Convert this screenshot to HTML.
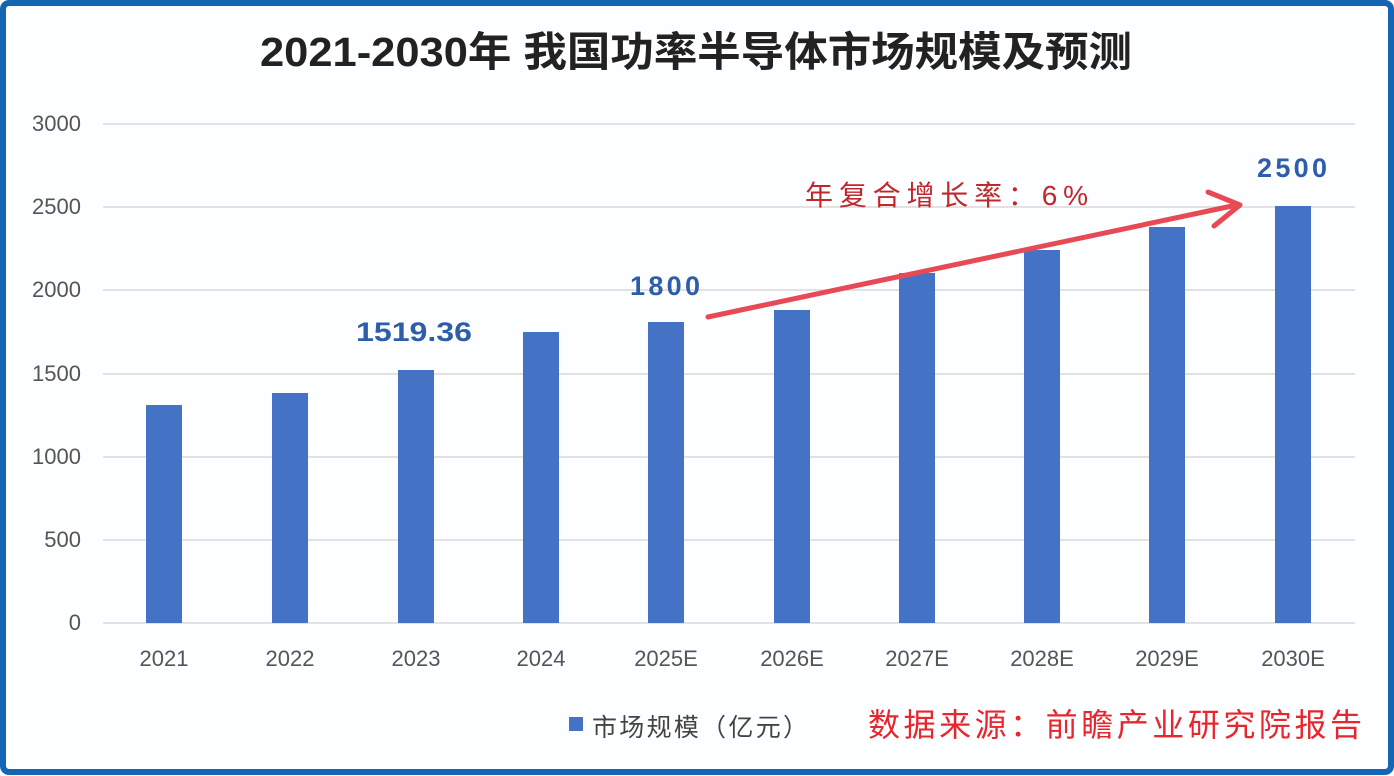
<!DOCTYPE html><html><head><meta charset="utf-8"><style>
body{margin:0;background:#fff}
svg{display:block}
text{font-family:"Liberation Sans","Noto Sans CJK SC",sans-serif}
</style></head><body>
<svg width="1394" height="776" xmlns="http://www.w3.org/2000/svg">
<rect x="3" y="3" width="1388" height="769" fill="#fdfeff" stroke="#1565b5" stroke-width="6" rx="6"/>
<text x="696" y="66" text-anchor="middle" font-size="41" font-weight="bold" fill="#222" textLength="872" lengthAdjust="spacingAndGlyphs">2021-2030年 我国功率半导体市场规模及预测</text>
<g stroke="#d9d9d9" stroke-width="1.5">
<line x1="103" x2="1355" y1="124" y2="124"/><line x1="103" x2="1355" y1="207" y2="207"/>
<line x1="103" x2="1355" y1="290" y2="290"/><line x1="103" x2="1355" y1="374" y2="374"/>
<line x1="103" x2="1355" y1="457" y2="457"/><line x1="103" x2="1355" y1="540" y2="540"/>
<line x1="103" x2="1355" y1="623" y2="623"/></g>
<g font-size="22" fill="#555" text-anchor="end">
<text x="81" y="131">3000</text><text x="81" y="214">2500</text><text x="81" y="297">2000</text>
<text x="81" y="381">1500</text><text x="81" y="464">1000</text><text x="81" y="547">500</text><text x="81" y="630">0</text></g>
<g fill="#4472c4">
<rect x="146" y="405" width="36" height="218"/><rect x="272" y="393" width="36" height="230"/>
<rect x="398" y="370" width="36" height="253"/><rect x="523" y="332" width="36" height="291"/>
<rect x="648" y="322" width="36" height="301"/><rect x="774" y="310" width="36" height="313"/>
<rect x="899" y="273" width="36" height="350"/><rect x="1024" y="250" width="36" height="373"/>
<rect x="1149" y="227" width="36" height="396"/><rect x="1275" y="206" width="36" height="417"/></g>
<g font-size="22" fill="#555" text-anchor="middle">
<text x="164" y="666">2021</text><text x="290" y="666">2022</text><text x="416" y="666">2023</text>
<text x="541" y="666">2024</text><text x="666" y="666">2025E</text><text x="792" y="666">2026E</text>
<text x="917" y="666">2027E</text><text x="1042" y="666">2028E</text><text x="1167" y="666">2029E</text><text x="1293" y="666">2030E</text></g>
<g font-size="27" font-weight="bold" fill="#2e5eaa" text-anchor="middle">
<text x="414" y="341" textLength="116" lengthAdjust="spacingAndGlyphs">1519.36</text><text x="665" y="295" textLength="70">1800</text><text x="1292" y="177" textLength="70">2500</text></g>
<text x="805" y="205" font-size="28" fill="#c0282d" textLength="283">年复合增长率：6%</text>
<line x1="708" y1="317" x2="1232" y2="206" stroke="#e84a55" stroke-width="5" stroke-linecap="round"/>
<polyline points="1208,192 1240,205 1214,226" fill="none" stroke="#e84a55" stroke-width="5" stroke-linecap="round" stroke-linejoin="round"/>
<rect x="569" y="717" width="14" height="14" fill="#4472c4"/>
<text x="592" y="736" font-size="25" fill="#444" textLength="216">市场规模（亿元）</text>
<text x="868" y="736" font-size="32" fill="#e8262d" textLength="494">数据来源：前瞻产业研究院报告</text>
</svg>
</body></html>
